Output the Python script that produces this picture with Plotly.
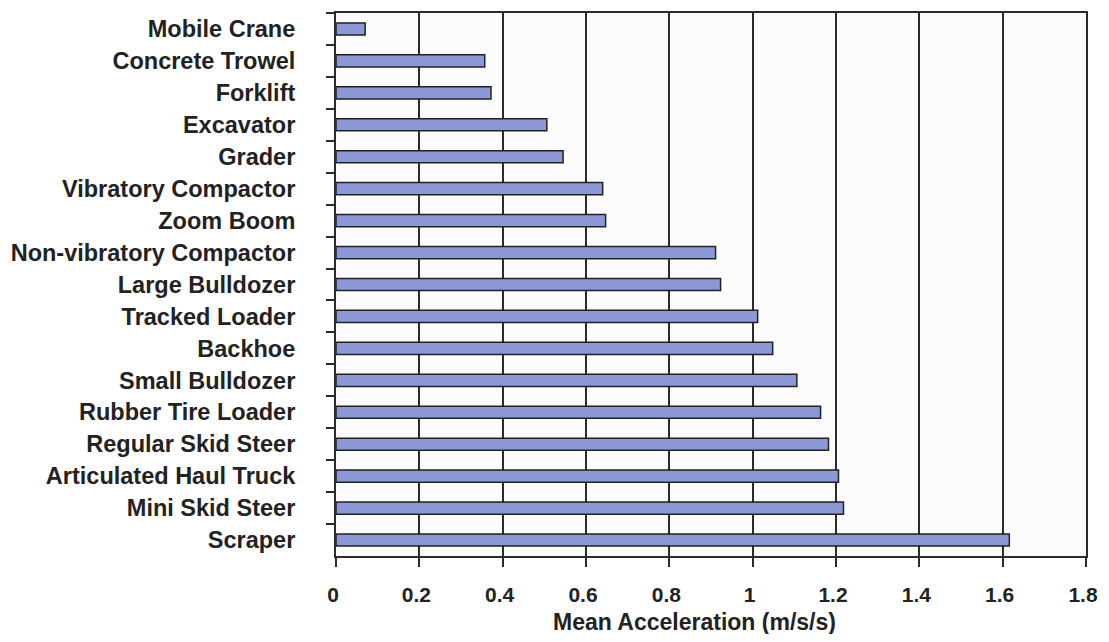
import plotly.graph_objects as go

categories = ["Mobile Crane", "Concrete Trowel", "Forklift", "Excavator", "Grader",
              "Vibratory Compactor", "Zoom Boom", "Non-vibratory Compactor",
              "Large Bulldozer", "Tracked Loader", "Backhoe", "Small Bulldozer",
              "Rubber Tire Loader", "Regular Skid Steer", "Articulated Haul Truck",
              "Mini Skid Steer", "Scraper"]
values = [0.07, 0.357, 0.372, 0.506, 0.545, 0.64, 0.647, 0.911, 0.923, 1.012,
          1.048, 1.106, 1.163, 1.182, 1.206, 1.218, 1.616]
x_ticks = [0, 0.2, 0.4, 0.6, 0.8, 1.0, 1.2, 1.4, 1.6, 1.8]
x_tick_labels = ["0", "0.2", "0.4", "0.6", "0.8", "1", "1.2", "1.4", "1.6", "1.8"]
x_title = "Mean Acceleration (m/s/s)"

FONT = "Liberation Sans, Arial, Helvetica, sans-serif"
LINE = "#2b2b2b"
TXT = "#222222"

fig = go.Figure(go.Bar(
    x=values, y=categories, orientation="h",
    marker=dict(color="#8c97d6", line=dict(color="#222222", width=1.5)),
    width=0.38,
))

fig.update_layout(
    width=1093, height=626,
    margin=dict(l=328, r=12, t=3, b=78),
    paper_bgcolor="white", plot_bgcolor="#fcfcfc",
    showlegend=False,
    font=dict(family=FONT, color=TXT),
)
fig.update_xaxes(
    range=[0, 1.8], tickvals=x_ticks, ticktext=x_tick_labels,
    showgrid=True, gridcolor=LINE, gridwidth=2,
    showline=True, linecolor=LINE, linewidth=2, mirror=True,
    ticks="outside", ticklen=9, tickwidth=2, tickcolor=LINE,
    tickfont=dict(size=21, family=FONT, weight="bold", color=TXT),
    ticklabelstandoff=10, ticklabelshift=-3,
    zeroline=False,
)
fig.update_yaxes(
    categoryorder="array", categoryarray=categories, autorange="reversed",
    showgrid=False,
    showline=True, linecolor=LINE, linewidth=2, mirror=True,
    ticks="outside", tickson="boundaries", ticklen=8, tickwidth=2, tickcolor=LINE,
    tickfont=dict(size=23.5, family=FONT, weight="bold", color=TXT),
    ticklabelstandoff=34,
)
fig.add_annotation(
    text=x_title, xref="paper", yref="paper", x=0.478, y=-0.121,
    xanchor="center", yanchor="middle", showarrow=False,
    font=dict(size=23, family=FONT, weight="bold", color=TXT),
)

fig.write_html("out.html")
